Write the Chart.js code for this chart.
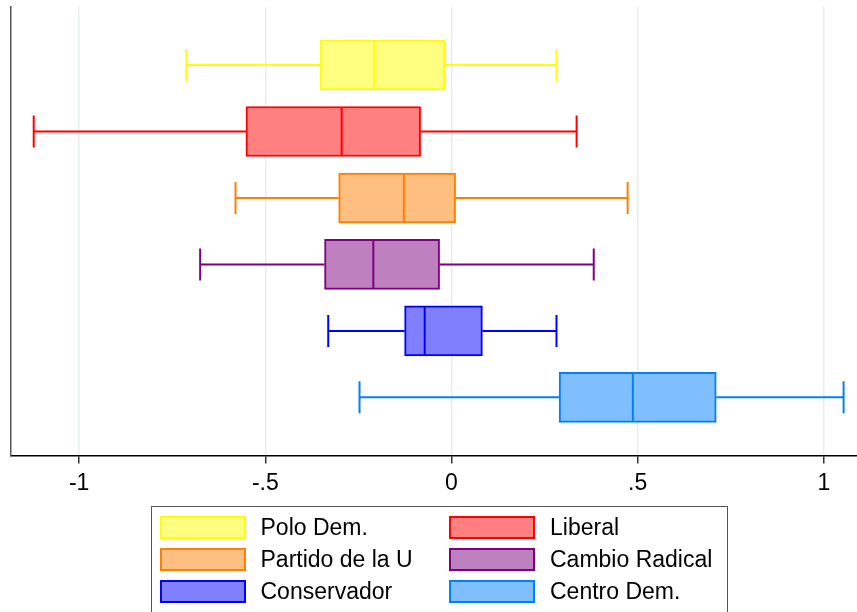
<!DOCTYPE html>
<html>
<head>
<meta charset="utf-8">
<script src="https://cdn.jsdelivr.net/npm/chart.js@4.4.1/dist/chart.umd.min.js"></script>
<style>
  html, body { margin: 0; padding: 0; background: #fff; }
  #wrap { position: relative; width: 857px; height: 612px; overflow: hidden; }
  #legend {
    position: absolute; left: 151px; top: 506px; width: 577px; height: 130px;
    border: 1.5px solid #555; box-sizing: border-box;
    font-family: "Liberation Sans", Arial, sans-serif; font-size: 23px; color: #000;
  }
  .item { position: absolute; display: flex; align-items: center; height: 23px; white-space: nowrap; }
  .sw { width: 86px; height: 23px; box-sizing: border-box; border: 2px solid; margin-right: 15px; }
</style>
</head>
<body>
<div id="wrap">
  <canvas id="chart" width="857" height="612"></canvas>
  <div id="legend"></div>
</div>
<script>
// parties, top to bottom
const parties = ['Polo Dem.', 'Liberal', 'Partido de la U', 'Cambio Radical', 'Conservador', 'Centro Dem.'];

// box plot summaries
const mins    = [-0.712, -1.122, -0.580, -0.675, -0.331, -0.247];
const q1s     = [-0.353, -0.552, -0.303, -0.341, -0.126,  0.289];
const medians = [-0.207, -0.295, -0.128, -0.210, -0.072,  0.487];
const q3s     = [-0.018, -0.083,  0.011, -0.032,  0.083,  0.711];
const maxs    = [ 0.282,  0.336,  0.473,  0.382,  0.282,  1.053];

// x axis
const tickValues = [-1, -0.5, 0, 0.5, 1];
const tickLabels = ['-1', '-.5', '0', '.5', '1'];
const xMin = -1.183;
const xMax = 1.089;

const lineColors = ['#ffff00', '#ff0000', '#ff8000', '#800080', '#0000ff', '#0080ff'];
const fillColors = ['#ffff80', '#ff8080', '#ffbf80', '#bf80bf', '#8080ff', '#80bfff'];

const FONT = '"Liberation Sans", Arial, sans-serif';
const BOX_H = 50;

// whiskers, caps and medians on top of the floating bars
const boxWhiskers = {
  id: 'boxWhiskers',
  afterDatasetsDraw(chart) {
    const { ctx, scales: { x, y } } = chart;
    ctx.save();
    ctx.lineWidth = 2;
    chart.data.datasets.forEach((ds, i) => {
      const yc = y.getPixelForValue(i + 1);
      const cap = BOX_H * 0.32;
      const half = BOX_H / 2 - 1;
      const pMin = x.getPixelForValue(mins[i]);
      const pQ1 = x.getPixelForValue(q1s[i]);
      const pMed = x.getPixelForValue(medians[i]);
      const pQ3 = x.getPixelForValue(q3s[i]);
      const pMax = x.getPixelForValue(maxs[i]);
      ctx.strokeStyle = lineColors[i];
      ctx.beginPath();
      ctx.moveTo(pMin, yc); ctx.lineTo(pQ1, yc);
      ctx.moveTo(pQ3, yc); ctx.lineTo(pMax, yc);
      ctx.moveTo(pMin, yc - cap); ctx.lineTo(pMin, yc + cap);
      ctx.moveTo(pMax, yc - cap); ctx.lineTo(pMax, yc + cap);
      ctx.moveTo(pMed, yc - half); ctx.lineTo(pMed, yc + half);
      ctx.stroke();
    });
    ctx.restore();
  }
};

const chart = new Chart(document.getElementById('chart'), {
  type: 'bar',
  data: {
    datasets: parties.map((p, i) => ({
      label: p,
      data: [{ x: [q1s[i], q3s[i]], y: i + 1 }],
      backgroundColor: fillColors[i],
      borderColor: lineColors[i],
      borderWidth: 2,
      borderSkipped: false,
      barThickness: BOX_H,
      grouped: false
    }))
  },
  options: {
    indexAxis: 'y',
    responsive: false,
    animation: false,
    layout: { padding: { left: 11, right: 0, top: 7, bottom: 109 } },
    plugins: { legend: { display: false }, tooltip: { enabled: false } },
    scales: {
      x: {
        type: 'linear',
        min: xMin,
        max: xMax,
        afterBuildTicks: s => { s.ticks = tickValues.map(v => ({ value: v })); },
        ticks: {
          callback: (v, i) => tickLabels[i],
          font: { family: FONT, size: 23 },
          color: '#000',
          padding: 6,
          maxRotation: 0,
          autoSkip: false
        },
        grid: { color: '#e6eef0', lineWidth: 1.5, tickColor: '#333', tickLength: 8, tickWidth: 1.5 },
        border: { color: '#000', width: 1.5 }
      },
      y: {
        type: 'linear',
        reverse: true,
        offset: false,
        min: 0.127,
        max: 6.873,
        ticks: { display: false },
        grid: { display: false, drawTicks: false },
        border: { display: true, color: '#555', width: 1.5 }
      }
    }
  },
  plugins: [boxWhiskers]
});

// legend in two columns, built from the datasets
const legend = document.getElementById('legend');
chart.data.datasets.forEach((ds, i) => {
  const col = i % 2, row = Math.floor(i / 2);
  const item = document.createElement('div');
  item.className = 'item';
  item.style.left = (col === 0 ? 7.5 : 297) + 'px';
  item.style.top = (9 + row * 32) + 'px';
  const sw = document.createElement('span');
  sw.className = 'sw';
  sw.style.background = ds.backgroundColor;
  sw.style.borderColor = ds.borderColor;
  const txt = document.createElement('span');
  txt.textContent = ds.label;
  item.appendChild(sw);
  item.appendChild(txt);
  legend.appendChild(item);
});
</script>
</body>
</html>
